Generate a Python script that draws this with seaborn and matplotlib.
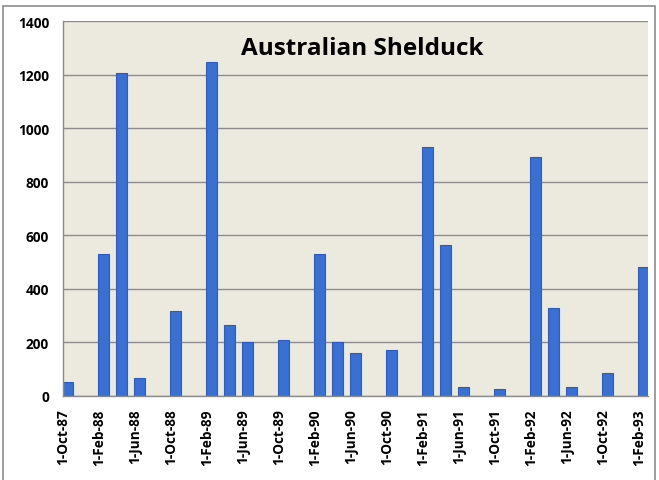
import matplotlib
matplotlib.use("Agg")
import matplotlib.pyplot as plt
import seaborn as sns
import pandas as pd
from matplotlib.patches import Rectangle

# Survey counts
survey_dates = ['1987-10', '1988-02', '1988-04', '1988-06', '1988-10', '1989-02', '1989-04',
                '1989-06', '1989-10', '1990-02', '1990-04', '1990-06', '1990-10', '1991-02',
                '1991-04', '1991-06', '1991-10', '1992-02', '1992-04', '1992-06', '1992-10',
                '1993-02']
counts = [51, 531, 1205, 68, 317, 1248, 266, 201, 208, 531, 201, 162, 172, 930,
          562, 32, 27, 892, 327, 32, 87, 481]

# date axis: one slot per month, labels every 4 months
months = pd.date_range('1987-10-01', '1993-02-01', freq='MS')
month_keys = [m.strftime('%Y-%m') for m in months]
tick_labels = ['1-' + m.strftime('%b-%y') for m in months[::4]]

df = pd.DataFrame({'month': survey_dates, 'count': counts})

sns.set_style("white")
plt.rcParams['font.family'] = ['Open Sans', 'DejaVu Sans']
plt.rcParams['text.color'] = 'black'
plt.rcParams['xtick.labelcolor'] = 'black'
plt.rcParams['ytick.labelcolor'] = 'black'

fig = plt.figure(figsize=(6.59, 4.81), dpi=100)
ax = fig.add_axes([63 / 659, 1 - 397 / 481, 585 / 659, 375 / 481])

sns.barplot(data=df, x='month', y='count', order=month_keys, width=1.2,
            color='#3A70D2', edgecolor='#2A5CC4', linewidth=0.8,
            saturation=1, ax=ax)

ax.set_facecolor('#ECE9DF')
ax.set_xlim(-0.5, len(months) - 0.5)
ax.set_ylim(0, 1400)
ax.set_yticks(range(0, 1401, 200))
ax.yaxis.grid(True, color='#8C8C8C', linewidth=1.0)
ax.set_axisbelow(True)

ax.set_xticks([i - 0.5 for i in range(0, len(months), 4)])
ax.set_xticklabels(tick_labels, rotation=90, fontweight='bold', fontsize=9.8)
for lab in ax.get_yticklabels():
    lab.set_fontweight('bold')
    lab.set_fontsize(9.8)
ax.tick_params(axis='both', direction='out', length=4, color='#8C8C8C', width=1.0, pad=5)
ax.tick_params(axis='y', pad=6)
ax.set_xlabel('')
ax.set_ylabel('')

for side in ['top', 'right']:
    ax.spines[side].set_visible(False)
for side in ['left', 'bottom']:
    ax.spines[side].set_color('#8C8C8C')
    ax.spines[side].set_linewidth(1.0)

ax.text(0.511, 0.928, 'Australian Shelduck', transform=ax.transAxes, ha='center', va='center',
        fontsize=17.5, fontweight='bold', color='black')

# chart border
fig.patches.append(Rectangle((3 / 659, -0.01), 652 / 659, 1 - 7 / 481 + 0.01,
                             transform=fig.transFigure, fill=False,
                             edgecolor='#8C8C8C', linewidth=1.2))

fig.savefig('out.png', dpi=100)
plt.close(fig)
